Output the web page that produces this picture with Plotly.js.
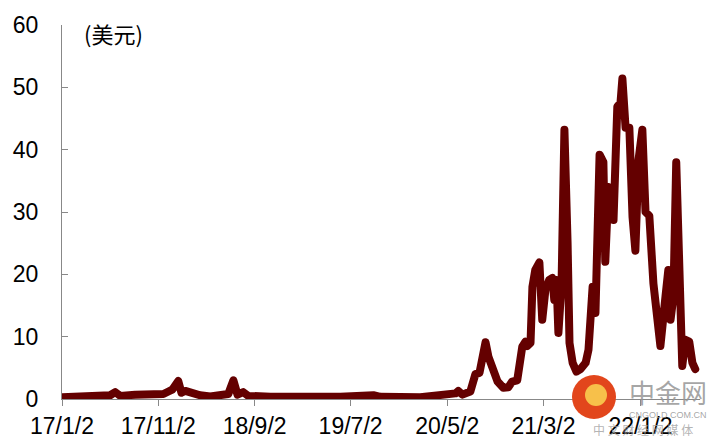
<!DOCTYPE html>
<html>
<head>
<meta charset="utf-8">
<script src="https://cdn.plot.ly/plotly-3.0.1.min.js"></script>
<style>
  html, body { margin: 0; padding: 0; background: #fff; }
  #chart { width: 728px; height: 447px; }
  path.js-line { stroke-linejoin: round !important; stroke-linecap: round !important; }
</style>
</head>
<body>
<div id="chart"></div>
<script>
// Dates of the readings
const dates = [
  "2017-01-02","2017-05-03","2017-06-03","2017-06-19","2017-07-05","2017-08-21","2017-09-22","2017-10-24",
  "2017-11-18","2017-12-04","2017-12-16","2018-01-04","2018-01-14","2018-01-26","2018-02-17","2018-03-14",
  "2018-04-15","2018-05-17","2018-06-11","2018-06-27","2018-07-10","2018-07-28","2018-08-13","2018-10-22",
  "2019-01-24","2019-05-31","2019-09-12","2019-10-04","2020-02-07","2020-04-10","2020-05-28","2020-06-06",
  "2020-06-19","2020-07-14","2020-07-30","2020-08-12","2020-08-31","2020-09-09","2020-09-19","2020-10-08",
  "2020-10-26","2020-11-11","2020-11-23","2020-12-09","2020-12-25","2021-01-04","2021-01-10","2021-01-20",
  "2021-01-26","2021-02-04","2021-02-17","2021-02-26","2021-03-08","2021-03-20","2021-03-30","2021-04-05",
  "2021-04-12","2021-04-18","2021-04-28","2021-05-07","2021-05-17","2021-05-23","2021-06-02","2021-06-14",
  "2021-06-27","2021-07-13","2021-07-22","2021-08-04","2021-08-13","2021-08-26","2021-09-07","2021-09-13",
  "2021-09-23","2021-10-05","2021-10-09","2021-10-21","2021-10-31","2021-11-06","2021-11-16","2021-11-28",
  "2021-12-08","2021-12-17","2021-12-27","2022-01-08","2022-01-18","2022-01-30","2022-02-12","2022-02-25",
  "2022-03-06","2022-03-22","2022-03-31","2022-04-07","2022-04-16","2022-04-25","2022-05-05","2022-05-14",
  "2022-05-24","2022-06-05","2022-06-15","2022-06-24"
];
// Values in USD
const values = [
  0.3,0.3,0.6,1.1,0.5,0.7,0.8,0.6,
  0.8,1.2,1.5,2.9,1.0,1.3,0.9,0.6,
  0.4,0.7,0.8,3.0,0.7,1.1,0.5,0.35,
  0.3,0.35,0.6,0.35,0.3,0.5,0.9,1.3,
  0.7,1.2,4.0,4.2,9.1,6.8,5.5,2.8,
  1.8,1.9,2.8,3.0,8.4,9.2,8.5,9.0,
  18,20.7,21.9,12.7,17.5,19.1,19.4,15.9,
  19.1,10.6,18.6,43.2,25,9,5.8,4.4,
  4.8,5.8,7.9,18,13.8,39.2,38.0,22,
  34,33.5,28.7,46.9,47.5,51.4,43.5,43.5,
  29.2,23.8,38.4,43.2,30,29.4,18.5,13,
  8.5,16.4,20.7,12.7,16.4,38.0,16.4,5.3,
  9.5,9.2,5.8,4.8
];
const tickDates = ["2017-01-02","2017-11-02","2018-09-02","2019-07-02","2020-05-02","2021-03-02","2022-01-02"];
const tickLabels = ["17/1/2","17/11/2","18/9/2","19/7/2","20/5/2","21/3/2","22/1/2"];
const yTicks = [0,10,20,30,40,50,60];
const unitLabel = "(美元)";

const FONT = "Liberation Sans, Arial, sans-serif";

const trace = {
  x: dates, y: values, type: "scatter", mode: "lines",
  line: { color: "#640000", width: 8, shape: "linear" },
  hoverinfo: "skip"
};

const layout = {
  width: 728, height: 447,
  margin: { l: 62, r: 28, t: 25, b: 48 },
  paper_bgcolor: "#ffffff", plot_bgcolor: "#ffffff",
  showlegend: false,
  font: { family: FONT, size: 23, color: "#000" },
  xaxis: {
    type: "date",
    range: ["2017-01-02", "2022-07-09"],
    tickmode: "array", tickvals: tickDates, ticktext: tickLabels,
    ticks: "outside", ticklen: 6, tickcolor: "#888", tickwidth: 1,
    showline: true, linecolor: "#888", linewidth: 1,
    showgrid: false, zeroline: false,
    tickfont: { family: FONT, size: 23, color: "#000" }
  },
  yaxis: {
    range: [0, 60],
    tickmode: "array", tickvals: yTicks,
    ticks: "inside", ticklen: 6, tickcolor: "#888", tickwidth: 1,
    showline: true, linecolor: "#888", linewidth: 1,
    showgrid: false, zeroline: false,
    ticklabelstandoff: 18,
    tickfont: { family: FONT, size: 23, color: "#000" }
  },
  annotations: [
    { text: unitLabel, xref: "paper", yref: "paper", x: 0.031, y: 0.978,
      xanchor: "left", yanchor: "middle", showarrow: false,
      font: { family: "Noto Sans CJK SC, " + FONT, size: 22, color: "#000" } },
    { text: "中金网", xref: "paper", yref: "paper", x: (668-62)/638, y: (399-391)/374,
      xanchor: "center", yanchor: "middle", showarrow: false,
      font: { family: "Noto Sans CJK SC", size: 26, color: "rgba(150,150,150,0.85)" } },
    { text: "CNGOLD.COM.CN", xref: "paper", yref: "paper", x: (668-62)/638, y: (399-415)/374,
      xanchor: "center", yanchor: "middle", showarrow: false,
      font: { family: FONT, size: 9, color: "rgba(150,150,150,0.85)" } },
    { text: "中 文 财 经 网 媒 体", xref: "paper", yref: "paper", x: (643-62)/638, y: (399-429)/374,
      xanchor: "center", yanchor: "middle", showarrow: false,
      font: { family: "Noto Sans CJK SC", size: 12, color: "rgba(160,160,160,0.8)" } }
  ],
  shapes: [
    { type: "circle", layer: "above", xref: "paper", yref: "paper",
      xsizemode: "pixel", ysizemode: "pixel", xanchor: (594-62)/638, yanchor: (399-397)/374,
      x0: -22, x1: 22, y0: -22, y1: 22,
      fillcolor: "#e2461c", line: { width: 0 } },
    { type: "circle", layer: "above", xref: "paper", yref: "paper",
      xsizemode: "pixel", ysizemode: "pixel", xanchor: (596-62)/638, yanchor: (399-395)/374,
      x0: -11, x1: 11, y0: -11, y1: 11,
      fillcolor: "#f7c04a", line: { width: 0 } }
  ]
};

Plotly.newPlot("chart", [trace], layout, { displayModeBar: false, staticPlot: true });
</script>
</body>
</html>
